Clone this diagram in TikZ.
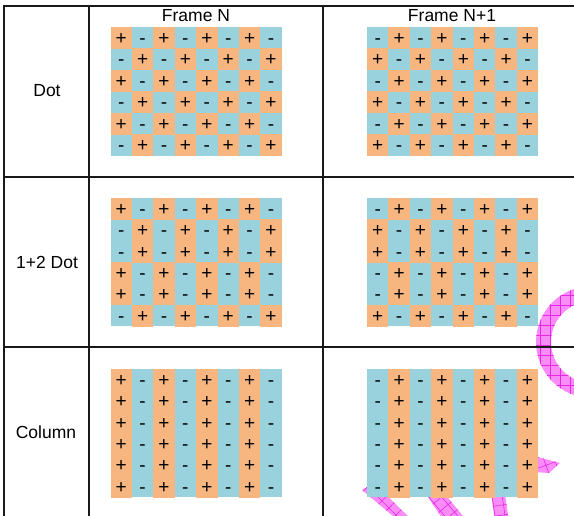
\documentclass[tikz,border=0pt]{standalone}
\usepackage{fontspec}
\setmainfont{Liberation Sans}
\usetikzlibrary{patterns.meta}

\definecolor{cellorange}{RGB}{247,182,127}
\definecolor{cellblue}{RGB}{153,209,221}
\definecolor{hatchfill}{RGB}{250,140,248}
\definecolor{hatchline}{RGB}{228,40,228}

\tikzset{
  rule/.style={line width=1.8pt, black!90, line join=miter},
  rowlabel/.style={font=\fontsize{17.5}{20}\selectfont, anchor=base},
  sign/.style={font=\fontsize{19}{22}\selectfont, anchor=base, inner sep=0pt},
  magentaband/.style={fill=hatchfill,
    postaction={pattern={Hatch[angle=#1,distance=10pt,line width=0.6pt]},
                pattern color=hatchline}},
}

% \pmgrid{name}{left}{top}{row phases}: 8x6 grid of +/- cells
\newcommand\pmgrid[4]{%
  \fill[cellblue] (#2,#3) rectangle ++(171.2,128.4);
  \foreach \ph [count=\rowi from 0] in {#4}{
    \foreach \coli in {0,...,7}{
      \pgfmathtruncatemacro\cellpar{mod(\coli+\ph,2)}
      \ifnum\cellpar=0
        \fill[cellorange] ({#2+21.4*\coli},{#3+21.4*\rowi-0.3}) rectangle ++(21.4,22.0);
        \node[sign] (#1-\rowi-\coli) at ({#2+21.4*\coli+10.7},{#3+21.4*\rowi+17.2}) {+};
      \else
        \node[sign] (#1-\rowi-\coli) at ({#2+21.4*\coli+10.7},{#3+21.4*\rowi+17.2}) {-};
      \fi
    }
  }
}

\begin{document}
\begin{tikzpicture}[x=1pt,y=-1pt]
\useasboundingbox (0,0) rectangle (574,515);
\clip (0,0) rectangle (574,515);

% hatched magenta ring and rays
\path[magentaband=0, even odd rule]
  (592,342) circle[radius=56] (592,342) circle[radius=41];
\path[magentaband=45] (362,490) -- (374,483) -- (414,522) -- (400,522) -- cycle;
\path[magentaband=40] (426,494) -- (445,494) -- (467,521) -- (444,521) -- cycle;
\path[magentaband=8]  (491,494) -- (505,494) -- (509,521) -- (495,521) -- cycle;
\path[magentaband=20] (534,456) -- (560,463) -- (549,473) -- (534,472) -- cycle;

% table rules
\draw[rule] (580,6) -- (4,6) -- (4,520);
\draw[rule] (89,6) -- (89,520);
\draw[rule] (323,6) -- (323,520);
\draw[rule] (4,177) -- (580,177);
\draw[rule] (4,347) -- (580,347);

% headers and row labels
\node[rowlabel] (hdrN)  at (196,21.7) {Frame N};
\node[rowlabel] (hdrN1) at (452,21.7) {Frame N+1};
\node[rowlabel] (lblDot) at (47,96.7) {Dot};
\node[rowlabel] (lblTwo) at (47,268) {1+2 Dot};
\node[rowlabel] (lblCol) at (46,438) {Column};

% polarity grids
\pmgrid{dotA}{110.5}{27.3}{0,1,0,1,0,1}
\pmgrid{dotB}{367}{27.3}{1,0,1,0,1,0}
\pmgrid{twoA}{110.5}{198}{0,1,1,0,0,1}
\pmgrid{twoB}{367}{198}{1,0,0,1,1,0}
\pmgrid{colA}{110.5}{369}{0,0,0,0,0,0}
\pmgrid{colB}{367}{369}{1,1,1,1,1,1}
\end{tikzpicture}
\end{document}
